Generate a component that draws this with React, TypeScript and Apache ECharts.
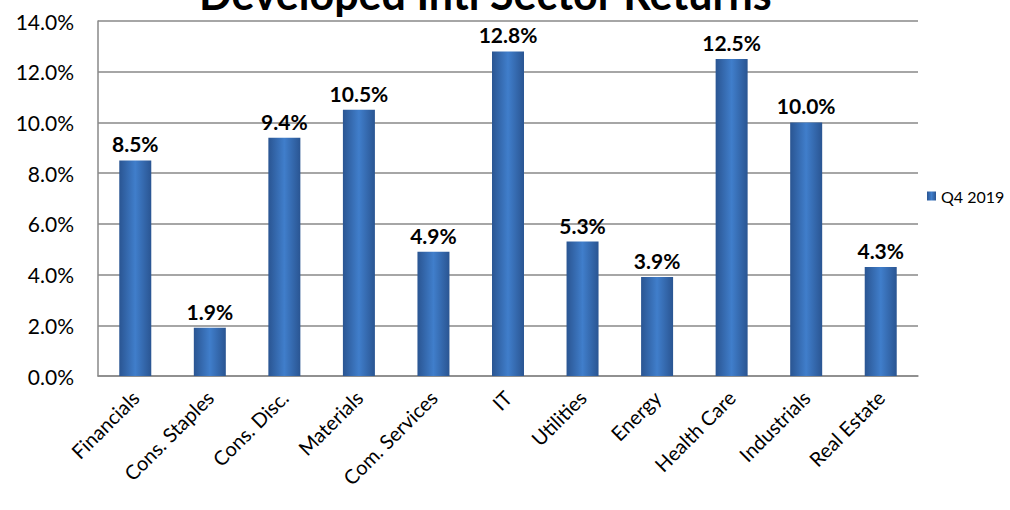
import React, { useEffect, useRef } from "react";
import * as echarts from "echarts";

const categories = ["Financials", "Cons. Staples", "Cons. Disc.", "Materials", "Com. Services", "IT", "Utilities", "Energy", "Health Care", "Industrials", "Real Estate"];
const q4_2019 = [8.5, 1.9, 9.4, 10.5, 4.9, 12.8, 5.3, 3.9, 12.5, 10.0, 4.3];
const seriesName = "Q4 2019";
const titleText = "Developed Intl Sector Returns";

export default function App() {
  const ref = useRef<HTMLDivElement>(null);
  useEffect(() => {
    document.body.style.margin = "0";
    const chart = echarts.init(ref.current!, null, { renderer: "svg" });
    const font = "Lato, 'Open Sans', sans-serif";
    const barColor = new echarts.graphic.LinearGradient(0, 0, 1, 0, [
      { offset: 0, color: "#2a5592" },
      { offset: 0.5, color: "#407ecb" },
      { offset: 1, color: "#2a5592" },
    ]);
    chart.setOption({
      animation: false,
      title: {
        text: titleText,
        left: 194,
        top: -33,
        textStyle: { fontFamily: font, fontWeight: "bold", fontSize: 43, color: "#000" },
      },
      legend: {
        data: [seriesName],
        orient: "vertical",
        left: 922,
        top: 183,
        itemWidth: 9,
        itemHeight: 9,
        icon: "rect",
        textStyle: { fontFamily: font, fontSize: 16, color: "#000" },
      },
      grid: { left: 98, right: 92, top: 21, bottom: 134 },
      xAxis: {
        type: "category",
        data: categories,
        axisLine: { lineStyle: { color: "#898989", width: 1.5 } },
        axisTick: { show: false },
        axisLabel: {
          rotate: 45,
          interval: 0,
          margin: 18,
          fontFamily: font,
          fontSize: 20,
          color: "#000",
        },
      },
      yAxis: {
        type: "value",
        min: 0,
        max: 14,
        interval: 2,
        axisLine: { show: true, lineStyle: { color: "#898989", width: 1.5 } },
        axisTick: { show: false },
        splitLine: { lineStyle: { color: "#898989", width: 1.5 } },
        axisLabel: {
          formatter: (v: number) => v.toFixed(1) + "%",
          fontFamily: font,
          fontSize: 21,
          color: "#000",
          margin: 24,
        },
      },
      series: [
        {
          name: seriesName,
          type: "bar",
          data: q4_2019,
          barWidth: 32,
          itemStyle: { color: barColor },
          label: {
            show: true,
            position: "top",
            distance: 6,
            formatter: (p: any) => Number(p.value).toFixed(1) + "%",
            fontFamily: font,
            fontWeight: "bold",
            fontSize: 21,
            color: "#000",
          },
        },
      ],
    });
    return () => chart.dispose();
  }, []);
  return <div ref={ref} style={{ width: 1010, height: 510 }} />;
}
